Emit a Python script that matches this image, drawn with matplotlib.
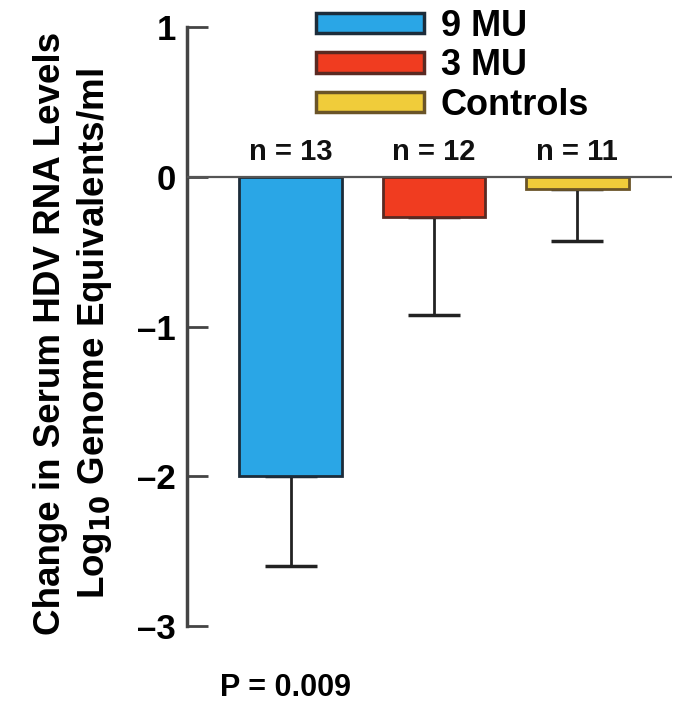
import matplotlib
matplotlib.use("Agg")
import matplotlib.pyplot as plt
from matplotlib.patches import Patch

plt.rcParams['font.family'] = ['Liberation Sans', 'DejaVu Sans']
plt.rcParams['font.weight'] = 'bold'
plt.rcParams['mathtext.default'] = 'bf'

groups = ['9 MU', '3 MU', 'Controls']
n_counts = [13, 12, 11]
mean_change = [-2.0, -0.27, -0.08]
sem_low = [0.6, 0.65, 0.35]
bar_colors = ['#2aa6e6', '#f03c20', '#f0cc3a']
edge_colors = ['#1c2c3a', '#5a2a22', '#6a5428']
y_ticks = [1, 0, -1, -2, -3]
p_text = 'P = 0.009'

fig = plt.figure(figsize=(6.74, 7.13), dpi=100)
W, H = 674, 713
ax = fig.add_axes([187 / W, 1 - 626 / H, (672 - 187) / W, (626 - 27) / H])

x = list(range(len(groups)))
ax.errorbar(x, mean_change, yerr=[sem_low, [0] * len(x)], fmt='none',
            ecolor='#222222', elinewidth=2, capsize=19, capthick=2.5, zorder=1)
ax.bar(x, mean_change, width=0.72, color=bar_colors, edgecolor=edge_colors,
       linewidth=2, zorder=2)
ax.axhline(0, color='#555555', lw=1.6, zorder=3)

# group sizes sit just above the zero line
for xi, n in zip(x, n_counts):
    ax.text(xi, 0.07, f'n = {n}', ha='center', va='bottom', fontsize=21,
            fontweight='bold', color='#111111')

ax.set_ylim(-3, 1)
ax.set_xlim(-0.727, 2.664)
ax.set_yticks(y_ticks)
ax.set_yticklabels([f'{t}'.replace('-', '\u2013') for t in y_ticks])
ax.tick_params(axis='y', direction='in', length=15, width=2, color='#444444',
               labelsize=25, pad=8)
ax.set_xticks([])
for side in ['top', 'right', 'bottom']:
    ax.spines[side].set_visible(False)
ax.spines['left'].set_linewidth(2.5)
ax.spines['left'].set_color('#444444')

fig.text(51 / W, 0.532, 'Change in Serum HDV RNA Levels', rotation=90,
         ha='center', va='center', fontsize=26.5, fontweight='bold')
fig.text(95 / W, 0.532, r'Log$_{10}$ Genome Equivalents/ml', rotation=90,
         ha='center', va='center', fontsize=26.5, fontweight='bold')

fig.text(285 / W, 1 - 688 / H, p_text, ha='center', va='center',
         fontsize=22, fontweight='bold')

handles = [Patch(facecolor=c, edgecolor=e, linewidth=2.5, label=g)
           for g, c, e in zip(groups, bar_colors, edge_colors)]
ax.legend(handles=handles, loc='upper left',
          bbox_to_anchor=(316 / W, 1 - 9 / H), bbox_transform=fig.transFigure,
          frameon=False, handlelength=3.0, handleheight=0.5,
          labelspacing=0.12, handletextpad=0.45, borderpad=0, borderaxespad=0,
          prop={'weight': 'bold', 'size': 26})

fig.savefig('out.png', dpi=100)
